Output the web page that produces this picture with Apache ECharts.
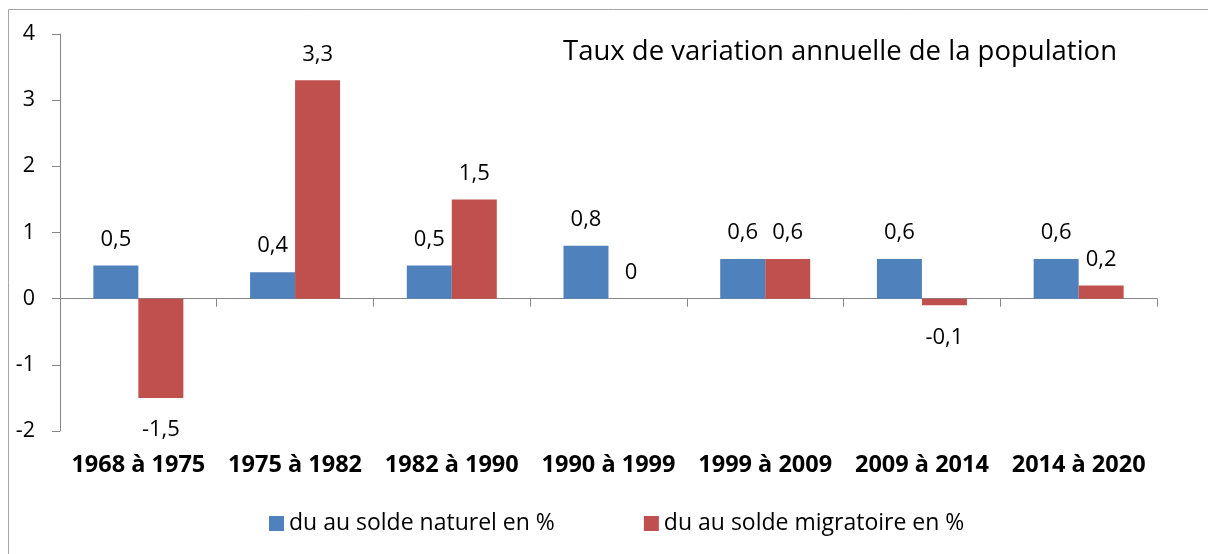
<!DOCTYPE html>
<html>
<head>
<meta charset="utf-8">
<script src="https://cdn.jsdelivr.net/npm/echarts@6/dist/echarts.min.js"></script>
<style>
html,body{margin:0;padding:0;background:#fff;}
#c{width:1208px;height:554px;}
</style>
</head>
<body>
<div id="c"></div>
<script>
const categories = ["1968 à 1975","1975 à 1982","1982 à 1990","1990 à 1999","1999 à 2009","2009 à 2014","2014 à 2020"];
const naturel = [0.5, 0.4, 0.5, 0.8, 0.6, 0.6, 0.6];
const migratoire = [-1.5, 3.3, 1.5, 0, 0.6, -0.1, 0.2];
const seriesNames = ["du au solde naturel en %", "du au solde migratoire en %"];
const titleText = "Taux de variation annuelle de la population";
const yTicks = [-2, -1, 0, 1, 2, 3, 4];

const FONT = "Open Sans";
const chart = echarts.init(document.getElementById('c'));
const fmt = v => String(v).replace('.', ',');

function mkData(arr){
  return arr.map(v => ({
    value: v,
    label: {position: v < 0 ? 'bottom' : 'top', distance: v < 0 ? 21 : 15}
  }));
}

chart.setOption({
  animation: false,
  textStyle: {fontFamily: FONT},
  graphic: [{
    type: 'rect', silent: true, z: -1,
    shape: {x: 8.5, y: 9.5, width: 1300, height: 700},
    style: {fill: 'none', stroke: '#a6a6a6', lineWidth: 1}
  }],
  title: {
    text: titleText,
    left: 835, top: 33, textAlign: 'center',
    textStyle: {fontFamily: FONT, fontSize: 27.5, fontWeight: 'normal', color: '#000'}
  },
  legend: {
    data: seriesNames,
    left: 264, top: 507,
    itemWidth: 15, itemHeight: 15, itemGap: 89,
    icon: 'rect',
    textStyle: {fontFamily: FONT, fontSize: 23, color: '#000'}
  },
  grid: {left: 60, right: 51, top: 34, bottom: 123, containLabel: false},
  xAxis: [{
    type: 'category', data: categories,
    axisLine: {onZero: true, lineStyle: {color: '#868686', width: 1}},
    axisTick: {show: true, length: 8, lineStyle: {color: '#868686'}},
    axisLabel: {show: false}
  },{
    type: 'category', data: categories, position: 'bottom',
    axisLine: {show: false, onZero: false}, axisTick: {show: false},
    axisLabel: {show: true, interval: 0, margin: 22, fontFamily: FONT, fontSize: 23.5, fontWeight: 'bold', color: '#000'}
  }],
  yAxis: {
    type: 'value', min: -2, max: 4, interval: 1,
    splitLine: {show: false},
    axisLine: {show: true, lineStyle: {color: '#868686'}},
    axisTick: {show: true, length: 8, lineStyle: {color: '#868686'}},
    axisLabel: {margin: 25, fontFamily: FONT, fontSize: 21.5, color: '#000',
      formatter: v => yTicks.includes(v) ? String(v) : ''}
  },
  series: [{
    name: seriesNames[0], type: 'bar', xAxisIndex: 0,
    data: mkData(naturel), barWidth: 45, barGap: '0%',
    itemStyle: {color: '#4F81BD'},
    label: {show: true, fontFamily: FONT, fontSize: 22, color: '#000', formatter: p => fmt(p.value)}
  },{
    name: seriesNames[1], type: 'bar', xAxisIndex: 0,
    data: mkData(migratoire), barWidth: 45, barGap: '0%',
    itemStyle: {color: '#C0504D'},
    label: {show: true, fontFamily: FONT, fontSize: 22, color: '#000', formatter: p => fmt(p.value)}
  }]
});
</script>
</body>
</html>
